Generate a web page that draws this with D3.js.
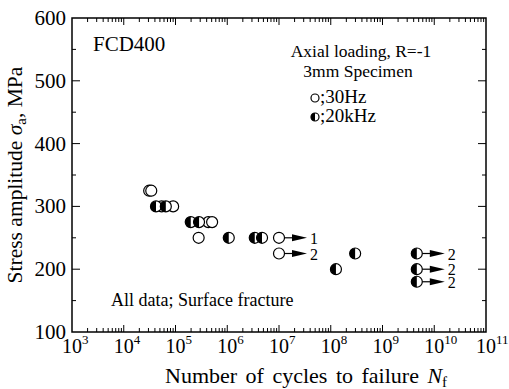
<!DOCTYPE html>
<html>
<head>
<meta charset="utf-8">
<script src="https://cdn.jsdelivr.net/npm/d3@7"></script>
<style>
  body { margin: 0; background: #fff; }
  svg { display: block; font-family: "Liberation Serif", "Times New Roman", serif; }
</style>
</head>
<body>
<svg width="509" height="389"></svg>
<script>
// 30Hz (open circles)
const cycles30 = [3.1e4, 3.4e4, 5.4e4, 9.0e4, 4.3e5, 5.1e5, 2.8e5];
const stress30 = [325, 325, 300, 300, 275, 275, 250];
// 20kHz (half filled)
const cycles20k = [4.2e4, 6.5e4, 1.97e5, 2.85e5, 1.07e6, 3.4e6, 4.7e6, 1.26e8, 2.96e8];
const stress20k = [300, 300, 275, 275, 250, 250, 250, 200, 225];
// run-outs (no failure), with number of specimens
const runoutCycles = [1.0e7, 1.0e7, 4.6e9, 4.6e9, 4.6e9];
const runoutStress = [250, 225, 225, 200, 180];
const runoutType = ["30Hz", "30Hz", "20kHz", "20kHz", "20kHz"];
const runoutCount = ["1", "2", "2", "2", "2"];

const xTicks = [1e3, 1e4, 1e5, 1e6, 1e7, 1e8, 1e9, 1e10, 1e11];
const yTicks = [100, 200, 300, 400, 500, 600];

const svg = d3.select("svg");
const mLeft = 72, mRight = 486, mTop = 18, mBottom = 332;

const x = d3.scaleLog().domain([1e3, 1e11]).range([mLeft, mRight]);
const y = d3.scaleLinear().domain([100, 600]).range([mBottom, mTop]);

// frame
svg.append("rect")
    .attr("x", mLeft).attr("y", mTop)
    .attr("width", mRight - mLeft).attr("height", mBottom - mTop)
    .attr("fill", "none").attr("stroke", "#000").attr("stroke-width", 1.5);

// minor log ticks
let minor = [];
for (let e = 3; e < 11; e++) {
    for (let m = 2; m <= 9; m++) minor.push(m * Math.pow(10, e));
}

const g = svg.append("g").attr("stroke", "#000").attr("stroke-width", 1);

// x ticks, bottom and top, inward
g.selectAll(".xmaj").data(xTicks.slice(1, -1)).enter().append("line")
    .attr("x1", d => x(d)).attr("x2", d => x(d))
    .attr("y1", mBottom).attr("y2", mBottom - 7);
g.selectAll(".xmajt").data(xTicks.slice(1, -1)).enter().append("line")
    .attr("x1", d => x(d)).attr("x2", d => x(d))
    .attr("y1", mTop).attr("y2", mTop + 7);
g.selectAll(".xmin").data(minor).enter().append("line")
    .attr("x1", d => x(d)).attr("x2", d => x(d))
    .attr("y1", mBottom).attr("y2", mBottom - 4);
g.selectAll(".xmint").data(minor).enter().append("line")
    .attr("x1", d => x(d)).attr("x2", d => x(d))
    .attr("y1", mTop).attr("y2", mTop + 4);

// y ticks, left and right
const yMinor = d3.range(150, 600, 100);
g.selectAll(".ymaj").data(yTicks.slice(1, -1)).enter().append("line")
    .attr("x1", mLeft).attr("x2", mLeft + 8)
    .attr("y1", d => y(d)).attr("y2", d => y(d));
g.selectAll(".ymajr").data(yTicks.slice(1, -1)).enter().append("line")
    .attr("x1", mRight).attr("x2", mRight - 8)
    .attr("y1", d => y(d)).attr("y2", d => y(d));
g.selectAll(".ymin").data(yMinor).enter().append("line")
    .attr("x1", mLeft).attr("x2", mLeft + 4)
    .attr("y1", d => y(d)).attr("y2", d => y(d));
g.selectAll(".yminr").data(yMinor).enter().append("line")
    .attr("x1", mRight).attr("x2", mRight - 4)
    .attr("y1", d => y(d)).attr("y2", d => y(d));

// tick labels
svg.selectAll(".ylab").data(yTicks).enter().append("text")
    .attr("x", mLeft - 6).attr("y", d => y(d) + 7)
    .attr("text-anchor", "end").attr("font-size", 21)
    .text(d => d);

const xl = svg.selectAll(".xlab").data(xTicks).enter().append("text")
    .attr("x", d => x(d) - 10).attr("y", 353)
    .attr("font-size", 20);
xl.append("tspan").text("10");
xl.append("tspan").attr("font-size", 13).attr("dy", -9).text(d => Math.round(Math.log10(d)));

// axis titles
const xt = svg.append("text").attr("x", 165).attr("y", 383)
    .attr("font-size", 22).attr("word-spacing", 3);
xt.append("tspan").text("Number of cycles to failure ");
xt.append("tspan").attr("font-style", "italic").text("N");
xt.append("tspan").attr("font-size", 15).attr("dy", 4).text("f");

const yt = svg.append("text")
    .attr("transform", "translate(22,175) rotate(-90)")
    .attr("text-anchor", "middle").attr("font-size", 21.5);
yt.append("tspan").text("Stress amplitude  ");
yt.append("tspan").attr("font-style", "italic").text("σ");
yt.append("tspan").attr("font-size", 15).attr("dy", 4).text("a");
yt.append("tspan").attr("dy", -4).text(", MPa");

// annotations
svg.append("text").attr("x", 93).attr("y", 51).attr("font-size", 21).text("FCD400");
svg.append("text").attr("x", 361).attr("y", 57).attr("text-anchor", "middle")
    .attr("font-size", 17.5).text("Axial loading, R=-1");
svg.append("text").attr("x", 358).attr("y", 77).attr("text-anchor", "middle")
    .attr("font-size", 17.5).text("3mm Specimen");
svg.append("text").attr("x", 111).attr("y", 306).attr("font-size", 18)
    .text("All data; Surface fracture");

// markers
function openCircle(sel, cx, cy, r) {
    sel.append("circle").attr("cx", cx).attr("cy", cy).attr("r", r)
        .attr("fill", "#fff").attr("stroke", "#000").attr("stroke-width", 1.2);
}
function halfCircle(sel, cx, cy, r) {
    const p = sel.append("g");
    p.append("circle").attr("cx", cx).attr("cy", cy).attr("r", r)
        .attr("fill", "#fff").attr("stroke", "#000").attr("stroke-width", 1.2);
    p.append("path")
        .attr("d", `M${cx},${cy - r} A${r},${r} 0 0 0 ${cx},${cy + r} Z`)
        .attr("fill", "#000");
}

const R = 5.5;
const marks = svg.append("g");

// legend
openCircle(marks, 315, 98, 4);
halfCircle(marks, 315, 117, 4);
svg.append("text").attr("x", 320).attr("y", 103).attr("font-size", 19).text(";30Hz");
svg.append("text").attr("x", 320).attr("y", 122).attr("font-size", 19).text(";20kHz");

// run-out arrows
runoutCycles.forEach((c, i) => {
    const cx = x(c), cy = y(runoutStress[i]);
    const tip = cx + 28;
    marks.append("line").attr("x1", cx).attr("x2", tip - 12)
        .attr("y1", cy).attr("y2", cy).attr("stroke", "#000").attr("stroke-width", 1.2);
    marks.append("path")
        .attr("d", `M${tip - 15},${cy - 3.5} L${tip},${cy} L${tip - 15},${cy + 3.5} Z`)
        .attr("fill", "#000");
    svg.append("text").attr("x", tip + 3).attr("y", cy + 6).attr("font-size", 16)
        .text(runoutCount[i]);
    if (runoutType[i] === "30Hz") openCircle(marks, cx, cy, R);
    else halfCircle(marks, cx, cy, R);
});

cycles30.forEach((c, i) => openCircle(marks, x(c), y(stress30[i]), R));
cycles20k.forEach((c, i) => halfCircle(marks, x(c), y(stress20k[i]), R));
</script>
</body>
</html>
